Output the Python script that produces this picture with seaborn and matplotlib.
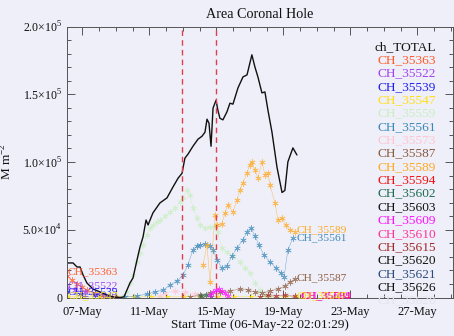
import numpy as np
import pandas as pd
import matplotlib
matplotlib.use("Agg")
import matplotlib.pyplot as plt
import matplotlib.dates as mdates
import seaborn as sns

# ---------------- data (time in days after start, area in units of 1e3) -------------
start = pd.Timestamp("2022-05-06 02:01:29")

total_t = [0.00, 0.36, 0.60, 0.78, 0.96, 1.19, 1.55, 1.97, 2.39, 2.75, 3.16, 3.40, 3.76, 3.94,
           4.18, 4.36, 4.54, 4.72, 4.84, 5.13, 5.55, 5.97, 6.33, 6.63, 6.87, 7.04, 7.22, 7.52,
           7.82, 8.06, 8.24, 8.36, 8.48, 8.60, 8.72, 8.90, 9.01, 9.13, 9.31, 9.55, 9.73, 9.91,
           10.21, 10.51, 10.75, 11.04, 11.22, 11.40, 11.64, 11.82, 12.00, 12.24, 12.54, 12.84,
           13.01, 13.19, 13.49, 13.73]
total_v = [25.5, 25.5, 22.5, 22.5, 16.6, 10.7, 6.3, 4.1, 1.8, 0.4, 0.0, 0.4, 10.7, 14.4,
           27.7, 37.3, 44.7, 57.2, 53.5, 62.4, 69.8, 73.5, 81.6, 88.0, 91.7, 102.8, 105.7, 111.6,
           116.8, 119.0, 122.0, 131.6, 128.6, 111.6, 139.7, 145.6, 138.2, 132.3, 131.1, 137.0, 143.4, 142.7,
           154.7, 162.8, 164.3, 179.1, 170.2, 162.8, 151.0, 151.7, 138.2, 122.0, 96.1, 77.5,
           79.0, 100.1, 110.4, 105.2]

s35363_t = [0.00, 0.30, 0.60, 0.90, 1.19, 1.67, 2.15, 2.69]
s35363_v = [15.9, 12.9, 10.0, 7.8, 5.5, 3.3, 1.8, 0.4]

s35522_t = [0.00, 0.48, 1.07, 1.67, 2.27, 2.87]
s35522_v = [7.0, 5.5, 4.1, 2.6, 1.1, 0.4]

s35539_t = [0.00, 0.78, 1.67, 2.57]
s35539_v = [4.1, 2.6, 1.8, 0.4]

s35547_t = [0.0, 1.0, 2.0, 3.0, 4.0, 5.0, 6.0, 7.0, 8.0, 9.0, 10.0, 11.0, 12.0, 13.0, 13.7]
s35547_v = [0.6, 0.5, 0.5, 0.4, 0.5, 0.6, 0.5, 0.6, 0.7, 0.6, 0.5, 0.6, 0.5, 0.6, 0.5]

s35559_t = [3.28, 3.58, 3.76, 3.94, 4.18, 4.36, 4.54, 4.78, 4.96, 5.13, 5.37, 5.55, 5.85, 6.15,
            6.45, 6.75, 6.93, 7.16, 7.34, 7.52, 7.76, 7.94, 8.24, 8.54, 8.84, 9.01, 9.25, 9.55,
            9.91, 10.33, 10.63, 10.93, 11.22, 11.52, 11.82, 12.12]
s35559_v = [0.4, 4.1, 10.7, 16.6, 26.2, 32.9, 38.8, 46.2, 51.3, 53.6, 55.8, 57.3, 60.3, 63.2,
            66.1, 70.5, 73.5, 79.4, 75.7, 66.1, 58.7, 53.5, 51.3, 52.1, 52.8, 48.4, 36.6, 33.6,
            30.7, 26.2, 21.8, 18.1, 10.7, 5.5, 1.8, 0.4]

s35561_t = [3.46, 4.18, 4.78, 5.25, 5.73, 6.15, 6.57, 6.93, 7.22, 7.52, 7.76, 7.94, 8.24, 8.54,
            8.72, 8.96, 9.25, 9.55, 9.85, 10.15, 10.51, 10.75, 10.99, 11.22, 11.46, 11.76, 12.12,
            12.48, 12.78, 12.96, 13.19, 13.49]
s35561_v = [0.4, 1.1, 2.6, 4.1, 5.5, 9.2, 12.2, 16.6, 24.0, 35.1, 38.0, 38.8, 39.5, 38.0,
            35.1, 27.7, 21.8, 23.3, 30.7, 36.6, 42.5, 48.4, 51.3, 45.4, 38.8, 31.4, 26.2,
            21.8, 18.1, 15.1, 35.1, 43.9]

s35573_t = [5.55, 5.85, 6.45, 7.04, 7.64, 8.24, 8.60]
s35573_v = [0.8, 3.3, 4.8, 4.1, 2.6, 1.1, 0.4]

s35587_t = [7.34, 7.94, 8.54, 9.13, 9.73, 10.33, 10.81, 11.22, 11.64, 12.12, 12.60, 13.01, 13.31, 13.61]
s35587_v = [0.4, 1.8, 3.3, 4.1, 4.8, 6.3, 5.5, 4.1, 3.3, 4.8, 6.3, 8.5, 11.4, 13.7]

s35589_t = [8.12, 8.36, 8.54, 8.84, 8.96, 9.25, 9.43, 9.61, 9.91, 10.15, 10.33, 10.51, 10.75,
            10.93, 11.04, 11.22, 11.40, 11.64, 11.82, 12.00, 12.12, 12.42, 12.60, 12.84, 13.07,
            13.31, 13.61]
s35589_v = [24.0, 38.8, 11.4, 60.9, 53.5, 54.3, 62.4, 68.3, 63.2, 72.0, 79.4, 84.6, 92.0,
            97.9, 100.1, 94.2, 88.3, 100.1, 90.5, 92.0, 83.1, 69.8, 57.2, 58.7, 53.5,
            49.9, 48.4]

s35602_t = [8.00, 8.30, 8.60]
s35602_v = [0.8, 2.0, 0.6]

s35609_t = [8.54, 8.72, 8.90, 9.07, 9.25, 9.43, 9.61]
s35609_v = [1.5, 4.0, 5.5, 6.0, 4.5, 3.0, 1.0]

s35615_t = [11.5, 12.0, 12.5, 13.0, 13.6]
s35615_v = [0.5, 1.5, 1.0, 1.8, 0.8]

legend_names = ["ch_TOTAL", "CH_35363", "CH_35522", "CH_35539", "CH_35547", "CH_35559",
                "CH_35561", "CH_35573", "CH_35587", "CH_35589", "CH_35594", "CH_35602",
                "CH_35603", "CH_35609", "CH_35610", "CH_35615", "CH_35620", "CH_35621",
                "CH_35626", "CH_35628"]
legend_colors = ["#111111", "#FF5A28", "#A040F0", "#1E1EF0", "#FFE010", "#C8EEC0",
                 "#3A87B8", "#FFC4D4", "#8B5A3C", "#FFA820", "#F01010", "#1E6B50",
                 "#111111", "#FF10FF", "#FF3399", "#A02828", "#111111", "#2A4A7A",
                 "#111111", "#E4E4EE"]
cmap = dict(zip(legend_names, legend_colors))

series = [
    ("CH_35547", s35547_t, s35547_v),
    ("CH_35363", s35363_t, s35363_v),
    ("CH_35522", s35522_t, s35522_v),
    ("CH_35539", s35539_t, s35539_v),
    ("CH_35573", s35573_t, s35573_v),
    ("CH_35559", s35559_t, s35559_v),
    ("CH_35561", s35561_t, s35561_v),
    ("CH_35587", s35587_t, s35587_v),
    ("CH_35589", s35589_t, s35589_v),
    ("CH_35602", s35602_t, s35602_v),
    ("CH_35609", s35609_t, s35609_v),
    ("CH_35615", s35615_t, s35615_v),
]

# end-of-series labels: (name, day, value(1e3))
end_labels = [
    ("CH_35363", 0.0, 18.8),
    ("CH_35522", 0.0, 8.5),
    ("CH_35539", 0.0, 4.6),
    ("CH_35547", 0.0, 1.2),
    ("CH_35589", 13.73, 49.9),
    ("CH_35561", 13.73, 43.9),
    ("CH_35587", 13.73, 14.4),
    ("CH_35594", 13.95, 1.0),
    ("CH_35609", 14.0, 1.0),
    ("CH_35547", 13.73, 1.0),
]

vlines = ["2022-05-12 23:00", "2022-05-15 00:00"]

# ---------------- plotting ----------------
bg = "#EFEFF9"
sns.set_theme(style="ticks")
plt.rcParams["font.family"] = ["Liberation Serif", "DejaVu Serif"]
plt.rcParams["mathtext.fontset"] = "custom"
plt.rcParams["mathtext.rm"] = "Liberation Serif"

fig = plt.figure(figsize=(4.54, 3.36), dpi=100, facecolor=bg)
ax = fig.add_axes([67 / 454, 38.5 / 336, 386 / 454, 271 / 336])
ax.set_facecolor(bg)

def to_time(days):
    return start + pd.to_timedelta(np.asarray(days, dtype=float), unit="D")

asterisk = (6, 2, 0)
for name, t, v in series:
    df = pd.DataFrame({"time": to_time(t), "area": np.asarray(v) * 1e3})
    sns.lineplot(data=df, x="time", y="area", ax=ax, color=cmap[name], linewidth=0.35,
                 marker=asterisk, markersize=4.5, markeredgewidth=0.5,
                 markeredgecolor=cmap[name], alpha=0.7, legend=False)

dft = pd.DataFrame({"time": to_time(total_t), "area": np.asarray(total_v) * 1e3})
sns.lineplot(data=dft, x="time", y="area", ax=ax, color="#111111", linewidth=1.0, legend=False)

for vl in vlines:
    ax.axvline(pd.Timestamp(vl), color="#E0404E", linestyle=(0, (4, 3)), linewidth=1.0)

for name, d, v in end_labels:
    ax.text(to_time([d])[0], v * 1e3, name, color=cmap[name], fontsize=8.2,
            ha="left", va="center")

# legend as coloured text column
for i, (name, col) in enumerate(zip(legend_names, legend_colors)):
    ax.text(0.955, 0.925 - i * 13.35 / 271, name, transform=ax.transAxes, color=col,
            fontsize=9.6, ha="right", va="center", zorder=5)

ax.set_xlim(start, start + pd.Timedelta(days=23.05))
ax.set_ylim(0, 2.0e5)
ax.xaxis.set_major_locator(mdates.DayLocator(bymonthday=[7, 11, 15, 19, 23, 27]))
ax.xaxis.set_major_formatter(mdates.DateFormatter("%d-%b"))
ax.xaxis.set_minor_locator(mdates.DayLocator())
ax.set_yticks([0, 5e4, 1e5, 1.5e5, 2e5])
ax.set_yticklabels(["0", r"5.0$\times$10$^4$", r"1.0$\times$10$^5$",
                    r"1.5$\times$10$^5$", r"2.0$\times$10$^5$"])
ax.set_yticks(np.arange(0, 2.0e5 + 1, 1e4), minor=True)

ax.tick_params(which="both", direction="in", top=True, right=True, colors="#555555",
               labelcolor="#111111", width=0.7, labelsize=8.6)
ax.tick_params(which="major", length=6)
ax.tick_params(which="minor", length=3)
ax.tick_params(axis="x", pad=6, labelsize=9)
for sp in ax.spines.values():
    sp.set_color("#555555")
    sp.set_linewidth(0.7)

ax.set_title("Area Coronal Hole", fontsize=10.2, color="#111111", pad=6)
ax.set_xlabel("Start Time (06-May-22 02:01:29)", fontsize=9.5, color="#111111", labelpad=1)
ax.set_ylabel(r"M m$^{-2}$", fontsize=9.5, color="#111111")
ax.yaxis.set_label_coords(-0.135, 0.5)

fig.savefig("out.png", dpi=100, facecolor=bg)
